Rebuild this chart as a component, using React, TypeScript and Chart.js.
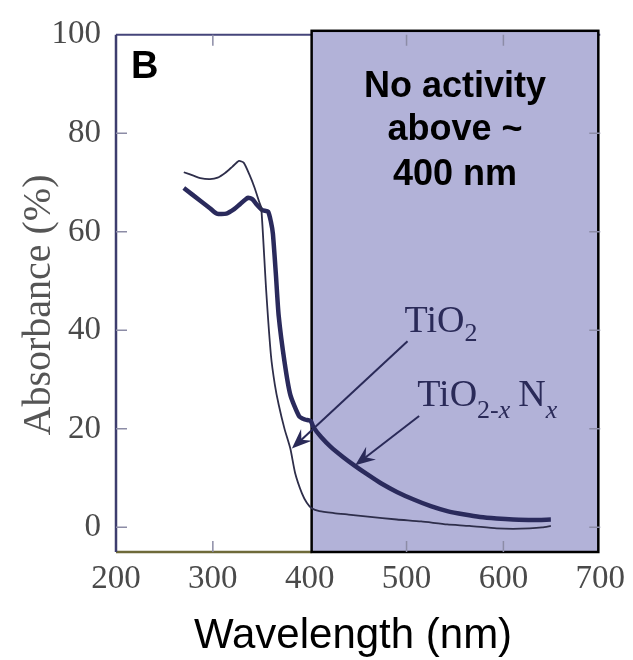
import React, { useEffect, useRef } from "react";
import { Chart, registerables } from "chart.js";

Chart.register(...registerables);

// ---- data ----
const xTickValues = [200, 300, 400, 500, 600, 700];
const yTickValues = [0, 20, 40, 60, 80, 100];

// TiO2 (thin line)
const tio2Wavelength = [270, 280, 287, 297, 305, 313, 320, 327, 332, 338, 343, 348, 350, 355, 360, 364, 368, 374, 380, 385, 392, 397, 402, 410, 425, 440, 460, 490, 515, 542, 565, 593, 610, 627, 640, 649];
const tio2Absorbance = [72.1, 71.4, 70.9, 70.7, 71.0, 72.0, 73.2, 74.4, 74.0, 71.5, 69.0, 66.0, 64.9, 48.3, 34.9, 29.0, 24.9, 20.0, 16.0, 11.0, 6.9, 5.0, 3.9, 3.3, 2.9, 2.6, 2.2, 1.6, 1.2, 0.6, 0.3, -0.2, -0.3, -0.2, 0.0, 0.3];

// TiO2-xNx (thick line)
const tio2nWavelength = [270, 287, 297, 304, 314, 322, 328, 336, 341, 345, 351, 357, 360, 362, 365, 368, 374, 380, 389, 395, 401, 404, 412, 422, 435, 446, 460, 474, 490, 508, 525, 542, 560, 576, 593, 610, 630, 649];
const tio2nAbsorbance = [68.9, 66.3, 64.8, 63.7, 63.7, 64.6, 65.6, 66.9, 66.6, 65.6, 64.4, 64.1, 62.0, 59.6, 51.6, 42.9, 33.6, 26.9, 22.6, 21.9, 21.6, 20.3, 18.3, 16.3, 14.2, 12.6, 10.7, 8.9, 7.2, 5.6, 4.3, 3.3, 2.6, 2.1, 1.8, 1.6, 1.5, 1.6];

// shaded region (nm)
const regionStart = 402;
const regionEnd = 698;
const regionText = ["No activity", "above ~", "400 nm"];

// annotation arrows: [fromX, fromY, toX, toY] in data units
const tio2Arrow = [501, 37.8, 381.6, 16.0];
const tio2nArrow = [513, 22.6, 447, 12.6];
const tio2LabelPos = [498, 39.6];
const tio2nLabelPos = [511, 24.6];

const panelLabel = "B";
const xTitle = "Wavelength (nm)";
const yTitle = "Absorbance (%)";

const SERIF = "'Liberation Serif', 'Times New Roman', serif";
const SANS = "'Liberation Sans', Arial, sans-serif";

function drawArrow(ctx: CanvasRenderingContext2D, x1: number, y1: number, x2: number, y2: number, color: string) {
  const ang = Math.atan2(y2 - y1, x2 - x1);
  const len = 20;
  const wid = 8;
  ctx.save();
  ctx.strokeStyle = color;
  ctx.fillStyle = color;
  ctx.lineWidth = 2;
  ctx.beginPath();
  ctx.moveTo(x1, y1);
  ctx.lineTo(x2 - Math.cos(ang) * len * 0.6, y2 - Math.sin(ang) * len * 0.6);
  ctx.stroke();
  const bx = x2 - Math.cos(ang) * len;
  const by = y2 - Math.sin(ang) * len;
  const px = -Math.sin(ang) * wid;
  const py = Math.cos(ang) * wid;
  const mx = x2 - Math.cos(ang) * len * 0.65;
  const my = y2 - Math.sin(ang) * len * 0.65;
  ctx.beginPath();
  ctx.moveTo(x2, y2);
  ctx.lineTo(bx + px, by + py);
  ctx.lineTo(mx, my);
  ctx.lineTo(bx - px, by - py);
  ctx.closePath();
  ctx.fill();
  ctx.restore();
}

const backgroundPlugin = {
  id: "bgRegion",
  beforeDatasetsDraw(chart: any) {
    const { ctx, chartArea, scales } = chart;
    const x = scales.x;
    const left = x.getPixelForValue(regionStart);
    const right = x.getPixelForValue(regionEnd);
    ctx.save();
    // top frame line
    ctx.strokeStyle = "#45457a";
    ctx.lineWidth = 2;
    ctx.beginPath();
    ctx.moveTo(chartArea.left, chartArea.top);
    ctx.lineTo(chartArea.right, chartArea.top);
    ctx.stroke();
    // bottom axis (olive)
    ctx.strokeStyle = "#6e6a3a";
    ctx.lineWidth = 2.5;
    ctx.beginPath();
    ctx.moveTo(chartArea.left, chartArea.bottom);
    ctx.lineTo(left, chartArea.bottom);
    ctx.stroke();
    // left axis
    ctx.strokeStyle = "#3d3d6e";
    ctx.lineWidth = 2.5;
    ctx.beginPath();
    ctx.moveTo(chartArea.left, chartArea.top);
    ctx.lineTo(chartArea.left, chartArea.bottom);
    ctx.stroke();
    // shaded box
    ctx.fillStyle = "#b2b2d8";
    ctx.fillRect(left, chartArea.top - 4, right - left, chartArea.bottom - chartArea.top + 4);
    ctx.strokeStyle = "#000000";
    ctx.lineWidth = 2.5;
    ctx.strokeRect(left, chartArea.top - 4, right - left, chartArea.bottom - chartArea.top + 4);

    // inner ticks
    ctx.strokeStyle = "#8c8ca6";
    ctx.lineWidth = 1.5;
    const y = scales.y;
    for (const v of yTickValues) {
      if (v >= 100) continue;
      const py = y.getPixelForValue(v);
      ctx.beginPath();
      ctx.moveTo(chartArea.left, py);
      ctx.lineTo(chartArea.left + 11, py);
      ctx.moveTo(chartArea.right - 11, py);
      ctx.lineTo(chartArea.right, py);
      ctx.stroke();
    }
    for (const v of xTickValues) {
      if (v <= 200 || v >= 700 || v === 400) continue;
      const px = x.getPixelForValue(v);
      ctx.beginPath();
      ctx.moveTo(px, chartArea.top);
      ctx.lineTo(px, chartArea.top + 11);
      ctx.moveTo(px, chartArea.bottom);
      ctx.lineTo(px, chartArea.bottom - 11);
      ctx.stroke();
    }
    ctx.restore();
  },
  afterDatasetsDraw(chart: any) {
    const { ctx, chartArea, scales } = chart;
    const x = scales.x;
    const y = scales.y;
    const navy = "#2a2a58";
    ctx.save();
    // arrows
    drawArrow(ctx, x.getPixelForValue(tio2Arrow[0]), y.getPixelForValue(tio2Arrow[1]), x.getPixelForValue(tio2Arrow[2]), y.getPixelForValue(tio2Arrow[3]), navy);
    drawArrow(ctx, x.getPixelForValue(tio2nArrow[0]), y.getPixelForValue(tio2nArrow[1]), x.getPixelForValue(tio2nArrow[2]), y.getPixelForValue(tio2nArrow[3]), navy);

    // labels
    ctx.fillStyle = navy;
    ctx.textBaseline = "alphabetic";
    ctx.textAlign = "left";
    let lx = x.getPixelForValue(tio2LabelPos[0]);
    let ly = y.getPixelForValue(tio2LabelPos[1]);
    ctx.font = `38px ${SERIF}`;
    ctx.fillText("TiO", lx, ly);
    let w = ctx.measureText("TiO").width;
    ctx.font = `26px ${SERIF}`;
    ctx.fillText("2", lx + w, ly + 9);

    lx = x.getPixelForValue(tio2nLabelPos[0]);
    ly = y.getPixelForValue(tio2nLabelPos[1]);
    ctx.font = `38px ${SERIF}`;
    ctx.fillText("TiO", lx, ly);
    w = ctx.measureText("TiO").width;
    ctx.font = `26px ${SERIF}`;
    ctx.fillText("2-", lx + w, ly + 12);
    let w2 = ctx.measureText("2-").width;
    ctx.font = `italic 26px ${SERIF}`;
    ctx.fillText("x", lx + w + w2, ly + 12);
    w2 += ctx.measureText("x").width;
    ctx.font = `38px ${SERIF}`;
    ctx.fillText("N", lx + w + w2 + 8, ly);
    const w3 = ctx.measureText("N").width;
    ctx.font = `italic 26px ${SERIF}`;
    ctx.fillText("x", lx + w + w2 + 8 + w3, ly + 12);

    // region text
    const cx = (x.getPixelForValue(regionStart) + x.getPixelForValue(regionEnd)) / 2;
    ctx.fillStyle = "#000";
    ctx.textAlign = "center";
    ctx.font = `bold 36px ${SANS}`;
    ctx.fillText(regionText[0], cx, chartArea.top + 62);
    ctx.fillText(regionText[1], cx, chartArea.top + 105);
    ctx.fillText(regionText[2], cx, chartArea.top + 150);

    // panel label
    ctx.textAlign = "left";
    ctx.font = `bold 38px ${SANS}`;
    ctx.fillText(panelLabel, chartArea.left + 15, chartArea.top + 43);

    // axis titles
    ctx.fillStyle = "#000";
    ctx.textAlign = "center";
    ctx.font = `42px ${SANS}`;
    ctx.fillText(xTitle, 353, 648);

    ctx.save();
    ctx.translate(50, 305);
    ctx.rotate(-Math.PI / 2);
    ctx.fillStyle = "#555555";
    ctx.font = `40px ${SERIF}`;
    ctx.fillText(yTitle, 0, 0);
    ctx.restore();
    ctx.restore();
  },
};

export default function App() {
  const ref = useRef<HTMLCanvasElement | null>(null);
  useEffect(() => {
    if (!ref.current) return;
    const chart = new Chart(ref.current, {
      type: "line",
      data: {
        datasets: [
          {
            label: "TiO2",
            data: tio2Wavelength.map((v, i) => ({ x: v, y: tio2Absorbance[i] })),
            borderColor: "#2e2e4a",
            borderWidth: 1.8,
            pointRadius: 0,
            tension: 0.2,
            fill: false,
          },
          {
            label: "TiO2-xNx",
            data: tio2nWavelength.map((v, i) => ({ x: v, y: tio2nAbsorbance[i] })),
            borderColor: "#2a2a5c",
            borderWidth: 4.5,
            pointRadius: 0,
            tension: 0.2,
            fill: false,
          },
        ],
      },
      options: {
        animation: false,
        responsive: false,
        layout: { padding: { top: 30, right: 28, left: 0, bottom: 0 } },
        plugins: { legend: { display: false }, tooltip: { enabled: false } },
        scales: {
          x: {
            type: "linear",
            min: 200,
            max: 700,
            afterBuildTicks: (s: any) => {
              s.ticks = xTickValues.map((v) => ({ value: v }));
            },
            afterFit: (s: any) => {
              s.height = 108;
            },
            ticks: {
              font: { family: SERIF, size: 33 },
              color: "#4a4a4a",
              padding: 8,
              maxRotation: 0,
              autoSkip: false,
            },
            grid: { display: false, drawTicks: false },
            border: { display: false },
          },
          y: {
            type: "linear",
            min: -5,
            max: 100,
            afterBuildTicks: (s: any) => {
              s.ticks = yTickValues.map((v) => ({ value: v }));
            },
            afterFit: (s: any) => {
              s.width = 116;
            },
            ticks: {
              font: { family: SERIF, size: 33 },
              color: "#4a4a4a",
              padding: 15,
              autoSkip: false,
            },
            grid: { display: false, drawTicks: false },
            border: { display: false },
          },
        },
      },
      plugins: [backgroundPlugin],
    });
    return () => chart.destroy();
  }, []);
  return (
    <div style={{ position: "fixed", left: 0, top: 0, width: 633, height: 660, background: "#fff" }}>
      <canvas ref={ref} width={633} height={660} style={{ width: 633, height: 660, display: "block" }} />
    </div>
  );
}
